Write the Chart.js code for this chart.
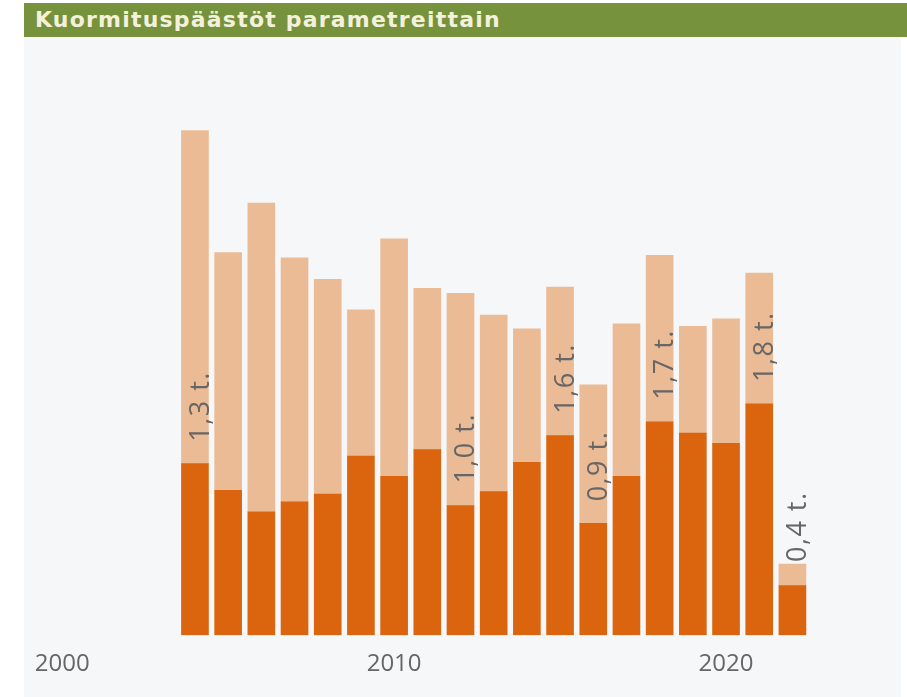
<!DOCTYPE html>
<html>
<head>
<meta charset="utf-8">
<script src="https://cdn.jsdelivr.net/npm/chart.js@4/dist/chart.umd.min.js"></script>
<style>
    html, body { margin: 0; padding: 0; background: #ffffff; }
    body { width: 907px; height: 697px; position: relative; overflow: hidden; }
    .panel { position: absolute; left: 24px; top: 3px; width: 877px; height: 694px; background: #f5f7f9; }
    .panel-title {
        position: absolute; left: 0; top: 0; width: 883px; height: 34px;
        background: #77923c; color: #f3f1dc;
        font-family: "DejaVu Sans", sans-serif;
        font-weight: bold; font-size: 22px; line-height: 34px;
        padding-left: 11px; box-sizing: border-box; letter-spacing: 1.2px;
    }
    .chart-box { position: absolute; left: 0; top: 34px; width: 877px; height: 660px; }
</style>
</head>
<body>
<div class="panel">
    <div class="panel-title">Kuormituspäästöt parametreittain</div>
    <div class="chart-box"><canvas id="chart" width="877" height="660"></canvas></div>
</div>
<script>
// Years shown as bars
const years = [2004, 2005, 2006, 2007, 2008, 2009, 2010, 2011, 2012, 2013,
               2014, 2015, 2016, 2017, 2018, 2019, 2020, 2021, 2022];

// Bottom series (dark orange), tonnes
const darkValues = [1.35, 1.14, 0.97, 1.05, 1.11, 1.41, 1.25, 1.46, 1.02, 1.13,
                    1.36, 1.57, 0.88, 1.25, 1.68, 1.59, 1.51, 1.82, 0.39];

// Top series (light orange), tonnes
const lightValues = [2.62, 1.87, 2.43, 1.92, 1.69, 1.15, 1.87, 1.27, 1.67, 1.39,
                     1.05, 1.17, 1.09, 1.20, 1.31, 0.84, 0.98, 1.03, 0.17];

// Data labels shown on some bars only
const barLabels = ['1,3 t.', null, null, null, null, null, null, null, '1,0 t.', null,
                   null, '1,6 t.', '0,9 t.', null, '1,7 t.', null, null, '1,8 t.', '0,4 t.'];

// X axis tick labels
const tickYears = [2000, 2010, 2020];

const colors = {
    dark: '#db650e',
    light: '#ebbb96',
    text: '#666666'
};

// Draw the rotated labels above the dark segment (or above the whole bar if no room)
const barLabelPlugin = {
    id: 'barLabels',
    afterDatasetsDraw(chart) {
        const ctx = chart.ctx;
        const darkMeta = chart.getDatasetMeta(0);
        const lightMeta = chart.getDatasetMeta(1);
        ctx.save();
        ctx.font = '27px "Open Sans", sans-serif';
        ctx.letterSpacing = '1.5px';
        ctx.fillStyle = colors.text;
        ctx.textAlign = 'left';
        ctx.textBaseline = 'middle';
        barLabels.forEach((label, i) => {
            if (!label) return;
            const darkBar = darkMeta.data[i];
            const lightBar = lightMeta.data[i];
            const textWidth = ctx.measureText(label).width;
            let start;
            if (darkBar.y - lightBar.y > textWidth + 30) {
                start = darkBar.y - 22;
            } else {
                start = lightBar.y - 2;
            }
            ctx.save();
            ctx.translate(darkBar.x + 6, start);
            ctx.rotate(-Math.PI / 2);
            ctx.fillText(label, 0, 0);
            ctx.restore();
        });
        ctx.restore();
    }
};

const chart = new Chart(document.getElementById('chart'), {
    type: 'bar',
    data: {
        datasets: [
            {
                label: 'dark',
                data: years.map((y, i) => ({ x: y, y: darkValues[i] })),
                backgroundColor: colors.dark,
                barThickness: 27,
                stack: 's'
            },
            {
                label: 'light',
                data: years.map((y, i) => ({ x: y, y: lightValues[i] })),
                backgroundColor: colors.light,
                barThickness: 27,
                stack: 's'
            }
        ]
    },
    options: {
        responsive: false,
        animation: false,
        layout: {
            padding: { left: 5, right: 9, top: 20, bottom: 11 }
        },
        plugins: {
            legend: { display: false },
            tooltip: { enabled: false }
        },
        scales: {
            x: {
                type: 'linear',
                min: 1999,
                max: 2025,
                offset: false,
                stacked: true,
                grid: { display: false, offset: false },
                border: { display: false },
                afterBuildTicks: scale => {
                    scale.ticks = tickYears.map(v => ({ value: v }));
                },
                ticks: {
                    padding: 7,
                    color: colors.text,
                    font: { family: '"Open Sans", sans-serif', size: 24 },
                    callback: value => String(value),
                    maxRotation: 0
                }
            },
            y: {
                display: false,
                stacked: true,
                min: 0,
                max: 4.55
            }
        }
    },
    plugins: [barLabelPlugin]
});
</script>
</body>
</html>
